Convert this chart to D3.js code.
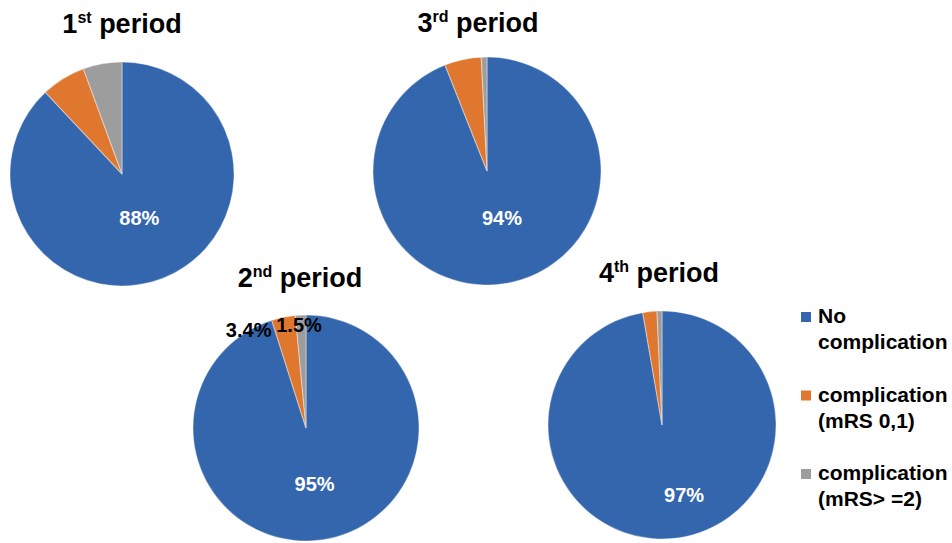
<!DOCTYPE html>
<html>
<head>
<meta charset="utf-8">
<script src="https://cdn.jsdelivr.net/npm/d3@7"></script>
<style>
  html, body { margin: 0; padding: 0; background: #fff; }
  svg { display: block; font-family: "Liberation Sans", Arial, Helvetica, sans-serif; }
</style>
</head>
<body>
<svg id="chart" width="952" height="543"></svg>
<script>
// ---- data ----
const periodNumbers = ["1", "2", "3", "4"];
const periodSuffixes = ["st", "nd", "rd", "th"];
const categories = ["No complication", "complication (mRS 0,1)", "complication (mRS> =2)"];
const legendLines = [["No", "complication"], ["complication", "(mRS 0,1)"], ["complication", "(mRS> =2)"]];
const noComplication = [88, 95.1, 94, 97.3];
const complicationMild = [6.4, 3.4, 5.2, 2.0];
const complicationSevere = [5.6, 1.5, 0.8, 0.7];
const showSmallLabels = [false, true, false, false];

// ---- layout ----
const colors = ["#3466AE", "#E0772F", "#9D9D9D"];
const centers = [[122, 174], [306, 428], [487, 171], [662, 425]];
const radii = [112, 113, 114, 114];
const titlePos = [[122, 33], [300, 287], [478, 32], [659, 282]];
const mainLabelR = [47, 56, 48, 72];
const mainLabelNudge = [[0, 0], [0, 0], [6, 0], [16, -2]];

const svg = d3.select("#chart");
const pie = d3.pie().sort(null).value(d => d);
const fmtMain = d3.format(".0f");
const fmtSmall = d3.format(".1f");

periodNumbers.forEach((num, i) => {
  const values = [noComplication[i], complicationMild[i], complicationSevere[i]];
  const total = d3.sum(values);
  const arcs = pie(values);
  const R = radii[i];
  const arc = d3.arc().innerRadius(0).outerRadius(R);
  const g = svg.append("g").attr("transform", `translate(${centers[i][0]},${centers[i][1]})`);

  g.selectAll("path.slice").data(arcs).join("path")
    .attr("class", "slice")
    .attr("d", arc)
    .attr("fill", (d, k) => colors[k])
    .attr("stroke", "#ffffff")
    .attr("stroke-opacity", 0.35)
    .attr("stroke-width", 1.2);

  // main percentage label
  const lr = mainLabelR[i];
  const la = d3.arc().innerRadius(lr).outerRadius(lr);
  const c = la.centroid(arcs[0]);
  g.append("text")
    .attr("x", c[0] + mainLabelNudge[i][0])
    .attr("y", c[1] + mainLabelNudge[i][1])
    .attr("dy", "0.36em")
    .attr("text-anchor", "middle")
    .attr("fill", "#ffffff")
    .attr("font-weight", "bold")
    .attr("font-size", 20)
    .text(fmtMain(noComplication[i] / total * 100) + "%");

  if (showSmallLabels[i]) {
    // outside labels for small slices
    const oa = d3.arc().innerRadius(R + 10).outerRadius(R + 10);
    const p1 = oa.centroid(arcs[1]);
    const p2 = oa.centroid(arcs[2]);
    g.append("text")
      .attr("x", p1[0] - 10).attr("y", p1[1] + 30)
      .attr("text-anchor", "end")
      .attr("font-weight", "bold").attr("font-size", 20).attr("fill", "#000")
      .text(fmtSmall(complicationMild[i]) + "%");
    g.append("text")
      .attr("x", p2[0] - 24).attr("y", p2[1] + 27)
      .attr("text-anchor", "start")
      .attr("font-weight", "bold").attr("font-size", 20).attr("fill", "#000")
      .text(fmtSmall(complicationSevere[i]) + "%");
  }

  // title
  const t = svg.append("text")
    .attr("x", titlePos[i][0]).attr("y", titlePos[i][1])
    .attr("text-anchor", "middle")
    .attr("font-weight", "bold")
    .attr("font-size", 27)
    .attr("fill", "#000");
  t.append("tspan").text(num);
  t.append("tspan").attr("font-size", 16).attr("dy", -10).text(periodSuffixes[i]);
  t.append("tspan").attr("dy", 10).text(" period");
});

// ---- legend ----
const legendY = d3.scalePoint().domain(categories).range([323, 480]);
const lg = svg.append("g");
categories.forEach((cat, k) => {
  const by = legendY(cat);
  lg.append("rect")
    .attr("x", 801).attr("y", by - 11)
    .attr("width", 10).attr("height", 10)
    .attr("fill", colors[k]);
  legendLines[k].forEach((line, j) => {
    lg.append("text")
      .attr("x", 818).attr("y", by + j * 26)
      .attr("font-weight", "bold").attr("font-size", 21).attr("fill", "#000")
      .text(line);
  });
});
</script>
</body>
</html>
